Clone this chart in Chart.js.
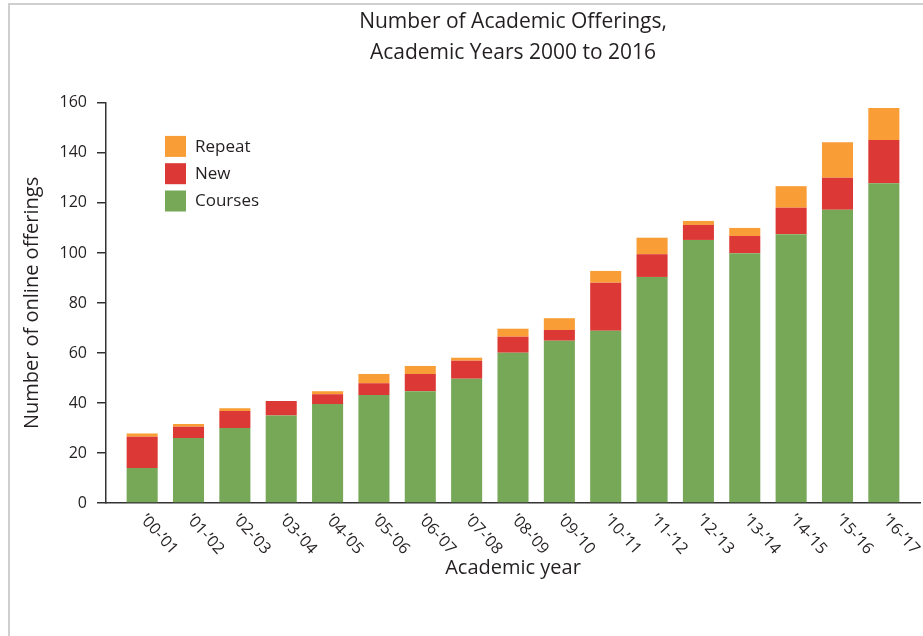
<!DOCTYPE html>
<html>
<head>
<meta charset="utf-8">
<script src="https://cdn.jsdelivr.net/npm/chart.js@4/dist/chart.umd.min.js"></script>
<style>
  body { margin: 0; background: #fff; }
  #frame { position: absolute; left: 8px; top: 3px; width: 1000px; height: 1000px;
           border-left: 2px solid #cfcfcf; border-top: 2px solid #cfcfcf; }
  #wrap { position: absolute; left: 0; top: 0; width: 923px; height: 636px; }
</style>
</head>
<body>
<div id="frame"></div>
<div id="wrap"><canvas id="offeringsChart"></canvas></div>
<script>
const years = ['’00-’01', '’01-’02', '’02-’03', '’03-’04', '’04-’05', '’05-’06', '’06-’07', '’07-’08', '’08-’09',
  '’09-’10', '’10-’11', '’11-’12', '’12-’13', '’13-’14', '’14-’15', '’15-’16', '’16-’17'];
const courses = [14, 26, 30, 35, 39.6, 43.2, 44.7, 49.7, 60.1, 64.9, 68.9, 90.4, 105.2, 99.9, 107.5, 117.3, 127.9];
const newOnes = [12.5, 4.5, 6.8, 5.8, 3.9, 4.7, 6.9, 7.2, 6.4, 4.3, 19.2, 9.1, 6.0, 6.9, 10.6, 12.8, 17.3];
const repeat = [1.3, 1.1, 1.1, 0, 1.2, 3.7, 3.2, 1.2, 3.2, 4.7, 4.7, 6.6, 1.6, 3.2, 8.6, 14.2, 12.8];
const yTicks = [0, 20, 40, 60, 80, 100, 120, 140, 160];

const FONT = "'Open Sans', sans-serif";
const TEXT = '#231f20';

function points(arr) {
  return arr.map((v, i) => ({ x: i, y: v }));
}

// rotated year labels, running down to the right from each bar
const yearLabels = {
  id: 'yearLabels',
  afterDraw(chart) {
    const ctx = chart.ctx;
    const xs = chart.scales.x;
    ctx.save();
    ctx.font = '16px ' + FONT;
    ctx.fillStyle = TEXT;
    ctx.textAlign = 'left';
    ctx.textBaseline = 'middle';
    years.forEach((lab, i) => {
      ctx.save();
      ctx.translate(xs.getPixelForValue(i) + 1, xs.top + 14);
      ctx.rotate(48 * Math.PI / 180);
      ctx.fillText(lab, 0, 0);
      ctx.restore();
    });
    ctx.restore();
  }
};

// legend boxes inside the plot, top-left
const boxLegend = {
  id: 'boxLegend',
  afterDraw(chart) {
    const ctx = chart.ctx;
    const area = chart.chartArea;
    const sets = chart.data.datasets.slice().reverse();
    ctx.save();
    ctx.font = '17px ' + FONT;
    ctx.textBaseline = 'middle';
    sets.forEach((ds, k) => {
      const x = area.left + 59;
      const y = area.top + 33 + k * 27.3;
      ctx.fillStyle = ds.backgroundColor;
      ctx.fillRect(x, y, 21, 21);
      ctx.fillStyle = TEXT;
      ctx.fillText(ds.label, x + 30, y + 11);
    });
    ctx.restore();
  }
};

const data = {
  datasets: [
    { label: 'Courses', data: points(courses), backgroundColor: 'rgb(118,168,88)' },
    { label: 'New', data: points(newOnes), backgroundColor: 'rgb(220,57,54)' },
    { label: 'Repeat', data: points(repeat), backgroundColor: 'rgb(249,157,54)' }
  ]
};

const config = {
  type: 'bar',
  data: data,
  options: {
    responsive: false,
    animation: false,
    barPercentage: 0.67,
    categoryPercentage: 1,
    layout: { padding: { left: 0, right: 3, top: 0, bottom: 0 } },
    plugins: {
      legend: { display: false },
      tooltip: { enabled: false },
      title: {
        display: true,
        fullSize: false,
        text: ['Number of Academic Offerings,', 'Academic Years 2000 to 2016'],
        color: TEXT,
        font: { family: FONT, size: 21, weight: 'normal', lineHeight: 1.45 },
        padding: { top: 7, bottom: 35 }
      }
    },
    scales: {
      x: {
        type: 'linear',
        stacked: true,
        offset: false,
        min: -0.78,
        max: 16.78,
        grid: { display: false },
        border: { display: true, color: '#333', width: 1.5 },
        ticks: { display: false },
        title: {
          display: true,
          text: 'Academic year',
          color: TEXT,
          font: { family: FONT, size: 20 },
          padding: { top: 0, bottom: 56 }
        },
        afterFit(scale) { scale.height = 133; }
      },
      y: {
        stacked: true,
        min: 0,
        max: 160,
        afterBuildTicks(scale) { scale.ticks = yTicks.map(v => ({ value: v })); },
        grid: { drawOnChartArea: false, drawTicks: true, tickLength: 9, color: '#333', lineWidth: 1.5 },
        border: { display: true, color: '#333', width: 1.5 },
        ticks: { color: TEXT, padding: 10, font: { family: FONT, size: 16 } },
        title: {
          display: true,
          text: 'Number of online offerings',
          color: TEXT,
          font: { family: FONT, size: 20 },
          padding: { top: 20, bottom: 0 }
        },
        afterFit(scale) { scale.width = 106; }
      }
    }
  },
  plugins: [yearLabels, boxLegend]
};

const canvas = document.getElementById('offeringsChart');
canvas.width = 923;
canvas.height = 636;
new Chart(canvas, config);
</script>
</body>
</html>
